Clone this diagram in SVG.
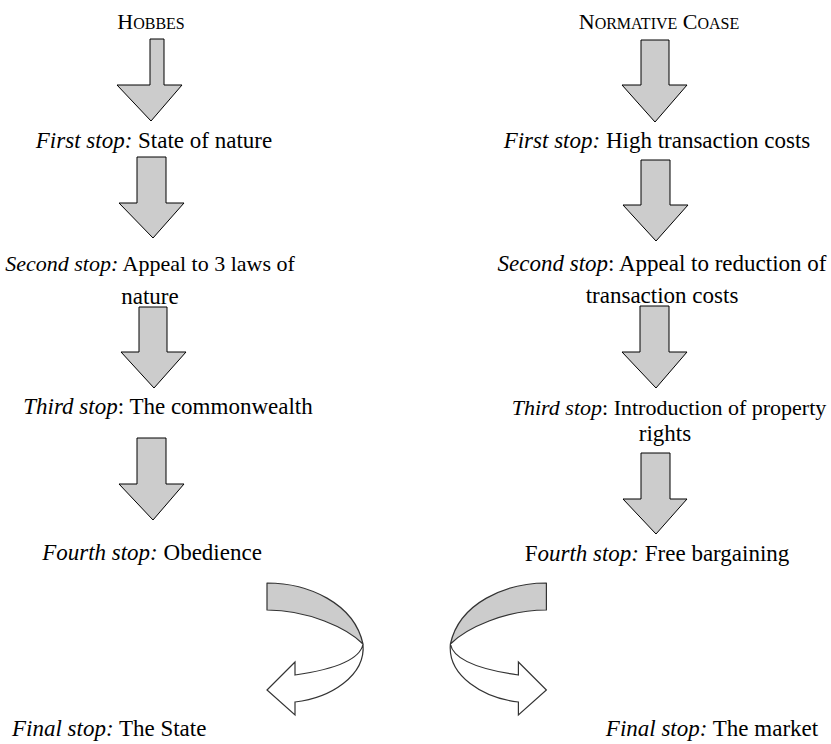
<svg xmlns="http://www.w3.org/2000/svg" width="831" height="744" viewBox="0 0 831 744">
<style>
text{font-family:"Liberation Serif","Times New Roman",serif;font-size:23px;fill:#000}
.c{text-anchor:middle}
.i{font-style:italic}
.t{font-size:22px}
.n{font-size:22px}
.sc{font-size:16px}
.arr{fill:#cccccc;stroke:#000;stroke-width:1}
.band{fill:#cccccc;stroke:#333;stroke-width:1.2;stroke-linejoin:round}
.front{fill:#fff;stroke:#333;stroke-width:1.2;stroke-linejoin:miter}
</style>
<defs>
<g id="curl">
<path class="band" d="M267,583 C308,583 354,603 363,644 C347,628 308,610 267,610 Z"/>
<path class="front" d="M363,644 C366,676 330,698 295,702 L295,715 L267,690 L295,662 L295,675 C330,670 360,661 363,644 Z"/>
</g>
</defs>
<g id="title-hobbes"><text class="c t" x="151" y="29">H<tspan class="sc">OBBES</tspan></text></g>
<g id="title-coase"><text class="c t" x="659" y="29">N<tspan class="sc">ORMATIVE</tspan> C<tspan class="sc">OASE</tspan></text></g>
<g id="l1"><text class="c" x="154" y="148"><tspan class="i">First stop:</tspan> State of nature</text></g>
<g id="l2"><text class="c n" x="150" y="271"><tspan class="i">Second stop:</tspan> Appeal to 3 laws of</text><text class="c" x="150" y="304">nature</text></g>
<g id="l3"><text class="c" x="168" y="414"><tspan class="i">Third stop</tspan>: The commonwealth</text></g>
<g id="l4"><text class="c" x="152" y="560"><tspan class="i">Fourth stop:</tspan> Obedience</text></g>
<g id="l5"><text x="12" y="736"><tspan class="i">Final stop:</tspan> The State</text></g>
<g id="r1"><text class="c" x="657" y="148"><tspan class="i">First stop:</tspan> High transaction costs</text></g>
<g id="r2"><text class="c" x="662" y="271"><tspan class="i">Second stop</tspan>: Appeal to reduction of</text><text class="c" x="662" y="303">transaction costs</text></g>
<g id="r3"><text class="c n" x="669" y="415"><tspan class="i">Third stop</tspan>: Introduction of property</text><text class="c" x="665" y="441">rights</text></g>
<g id="r4"><text class="c" x="657" y="561">F<tspan class="i">ourth stop:</tspan> Free bargaining</text></g>
<g id="r5"><text class="c" x="712" y="736"><tspan class="i">Final stop:</tspan> The market</text></g>
<g id="connectors">
<path class="arr" d="M150,39 H164 V85 H182 L151,121 L117,85 H150 Z"/>
<path class="arr" d="M137,157 H166 V203 H184 L153,238 L119,203 H137 Z"/>
<path class="arr" d="M139,307 H167 V352 H186 L154,388 L121,352 H139 Z"/>
<path class="arr" d="M137,438 H166 V484 H184 L153,520 L119,484 H137 Z"/>
<path class="arr" d="M641,40 H669 V85 H687 L655,122 L622,85 H641 Z"/>
<path class="arr" d="M641,160 H670 V205 H688 L656,241 L623,205 H641 Z"/>
<path class="arr" d="M640,306 H669 V352 H687 L656,388 L622,352 H640 Z"/>
<path class="arr" d="M641,453 H670 V499 H687 L656,534 L623,499 H641 Z"/>
<use href="#curl"/>
<use href="#curl" transform="matrix(-1 0 0 1 813.4 0)"/>
</g>
</svg>
